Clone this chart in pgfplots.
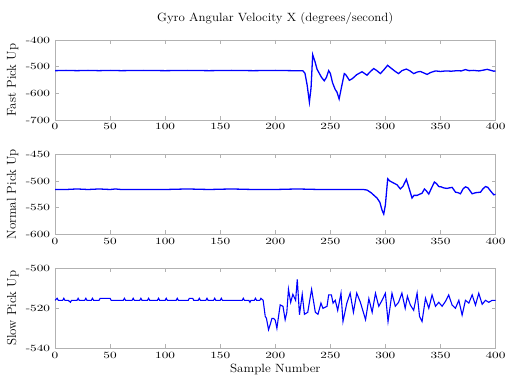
\documentclass[border=0pt]{standalone}
\usepackage{pgfplots}
\pgfplotsset{compat=1.18}

% Gyro X channel for three pick-up speeds
\pgfplotstableread{
x y
0 -515
10 -514
20 -515
30 -514
40 -515
50 -514
60 -515
80 -514
100 -515
120 -514
140 -515
160 -514
180 -515
200 -514
215 -515
225 -515
227 -525
229 -570
231 -633
232.5 -580
234 -455
236 -480
238 -510
240 -525
242 -540
244.5 -553
246.5 -540
248.5 -515
250 -525
252 -560
254.5 -586
256 -595
258 -621
260 -580
262.7 -526
264 -530
267.3 -551
270 -545
274 -530
278.8 -519
283.3 -532
286 -520
289.4 -507
292 -514
295.5 -526
299 -510
302 -495
305 -505
309 -518
312 -526
315 -515
319 -509
322 -515
325.8 -526
329 -520
331.8 -518
334 -522
337.9 -529
341 -522
345.5 -516
350 -518
355 -516
360 -517
365 -515
369 -516
372.7 -511
376 -515
380 -514
385 -516
389 -513
392.5 -510
395 -513
398.5 -517
400 -516
}\fastdata

\pgfplotstableread{
x y
0 -516
10 -516
20 -515
30 -516
40 -515
50 -516
55 -515
60 -516
80 -516
100 -516
120 -515
140 -516
160 -515
180 -516
200 -516
220 -515
240 -516
260 -516
280 -516
283.3 -517
287 -522
292.4 -532
295 -540
297 -555
298.5 -562
300 -545
302.1 -496
304 -500
307.6 -504
310.5 -507
313.6 -515
316 -510
319 -497
321 -510
324.2 -532
326 -527
328.8 -527
331 -525
333.3 -523
335.5 -515
337 -518
339.4 -524.5
341.5 -515
344.5 -502
346.5 -505
348.5 -510.5
350.5 -511
353 -513
356 -514
358 -513
360.6 -512
363.7 -521
366 -522
368.2 -524
370.5 -515
372.7 -511
375 -513
378.8 -524
382 -522
386.4 -521
388.5 -515
390.9 -510.5
393 -512
396 -520
398.5 -526
400 -525
}\normaldata

\pgfplotstableread{
x y
0 -516
2 -515
3 -516
7 -516
8 -515
9 -516
12 -516
14 -517
15 -516
20 -516
21 -515
22 -516
27 -516
28 -515
29 -516
33 -516
34 -515
35 -516
40 -516
41 -515
44 -515
50 -515
51 -516
62 -516
63 -515
64 -516
70 -516
71 -515
72 -516
77 -516
78 -515
79 -516
84 -516
85 -515
86 -516
93 -516
94 -515
95 -516
100 -516
101 -515
102 -516
110 -516
111 -515
112 -516
121 -516
122 -515
125 -515
126 -516
130 -516
131 -515
132 -516
137 -516
138 -515
139 -516
144 -516
145 -515
146 -516
150 -516
151 -515
152 -516
170 -516
171 -515
172 -516
176 -516
177 -517
178 -516
181 -516
182 -515
183 -516
186 -516
187 -515
189 -516
190.9 -524
192 -525
193.9 -530.7
195.5 -528
197 -525
198.5 -525
200 -526
201.5 -530
203 -524
204.5 -518.3
207 -519
209 -525.7
210.5 -522
212 -510.5
214 -517
216 -513
218.5 -516
220 -505.5
222 -523.2
224.5 -513
226.5 -523
229.5 -522
233 -510.5
236.4 -522
238.8 -523
241.5 -517.4
243.3 -520
247 -519
248.5 -513.3
251 -513.3
252.5 -517.4
254.5 -516
256.7 -521
259.7 -512.5
261.5 -526.6
265 -517.4
268 -512.4
271 -522
274 -512.4
277.3 -517
282 -525.7
285 -515.2
288 -522
291 -512.5
294 -519
297 -516
300 -512.5
302.4 -526.6
306 -512.5
309 -519
312 -517
315 -512.4
318 -520
320 -514
322.7 -518.4
325.7 -521
328.8 -512.4
331 -524
333.3 -526.6
336.4 -515
339.4 -520
342.4 -513.3
345.5 -519
348.5 -517
351.5 -519
354.5 -516.6
357.5 -513.3
360.6 -518.4
363.6 -520
366.7 -516
369.7 -523.4
372.7 -516
375.8 -517.4
378.8 -513.3
381.8 -518.4
384.8 -512.5
387.9 -518
390.9 -516
393.9 -517
397 -516
400 -516
}\slowdata

\pgfplotsset{
  panel/.style={
    scale only axis,
    width=440.5bp, height=80bp,
    anchor=north west,
    xmin=0, xmax=400,
    xtick={0,50,...,400},
    tick align=inside,
    major tick length=4bp,
    axis line style={gray!60},
    every tick/.style={gray!60},
    tick label style={font=\fontsize{9.5}{10}\selectfont, black, xscale=1.4},
    /pgf/number format/assume math mode=true,
    /pgf/number format/1000 sep={},
    ylabel style={font=\fontsize{13}{14}\selectfont, at={(axis description cs:-0.096,0.5)}, anchor=center},
  },
}

\begin{document}
\begin{tikzpicture}
\path[use as bounding box] (0bp,0bp) rectangle (506bp,376bp);

\begin{axis}[panel, at={(55bp,336bp)}, ymin=-700, ymax=-400, ytick={-700,-600,...,-400},
  ylabel={Fast Pick Up},
  title={Gyro Angular Velocity X (degrees/second)},
  title style={font=\fontsize{12}{13}\selectfont, xscale=1.08, at={(axis description cs:0.5,1.2)}, anchor=center}]
  \addplot[blue, line width=1.3pt] table {\fastdata};
\end{axis}

\begin{axis}[panel, at={(55bp,221.7bp)}, ymin=-600, ymax=-450, ytick={-600,-550,...,-450},
  ylabel={Normal Pick Up}]
  \addplot[blue, line width=1.3pt] table {\normaldata};
\end{axis}

\begin{axis}[panel, at={(55bp,107.7bp)}, ymin=-540, ymax=-500, ytick={-540,-520,-500},
  ylabel={Slow Pick Up},
  xlabel={Sample Number},
  xlabel style={font=\fontsize{12}{13}\selectfont, xscale=1.1, at={(axis description cs:0.5,-0.265)}, anchor=center}]
  \addplot[blue, line width=1.1pt] table {\slowdata};
\end{axis}
\end{tikzpicture}
\end{document}
